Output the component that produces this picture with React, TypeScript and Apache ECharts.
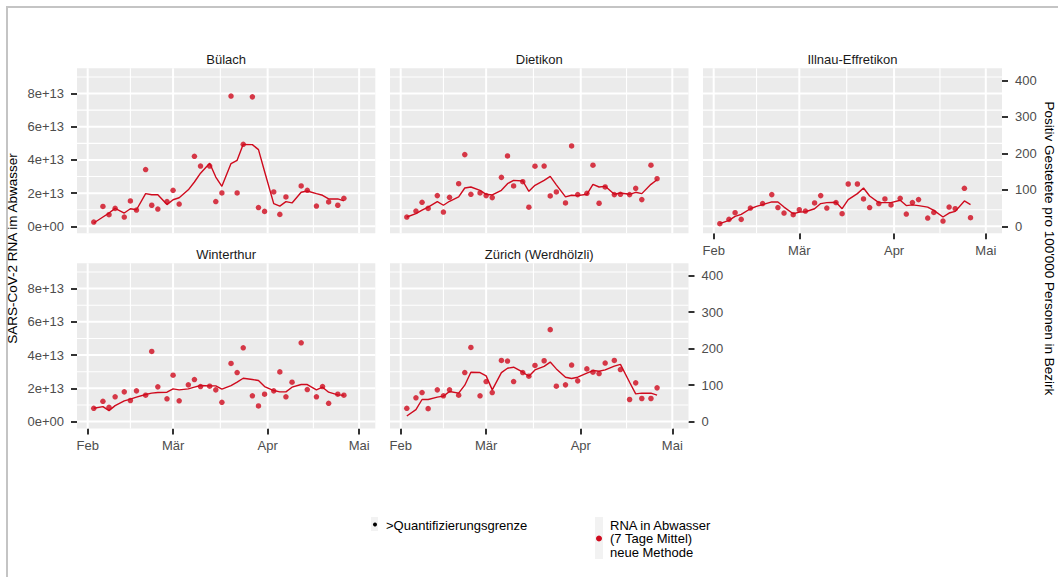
import React, { useEffect, useRef } from 'react';
import * as echarts from 'echarts';

const sampleDates = [
  '2021-02-03', '2021-02-06', '2021-02-08', '2021-02-10', '2021-02-13', '2021-02-15',
  '2021-02-17', '2021-02-20', '2021-02-22', '2021-02-24', '2021-02-27', '2021-03-01',
  '2021-03-03', '2021-03-06', '2021-03-08', '2021-03-10', '2021-03-13', '2021-03-15',
  '2021-03-17', '2021-03-20', '2021-03-22', '2021-03-24', '2021-03-27', '2021-03-29',
  '2021-03-31', '2021-04-03', '2021-04-05', '2021-04-07', '2021-04-09', '2021-04-12',
  '2021-04-14', '2021-04-17', '2021-04-19', '2021-04-21', '2021-04-24', '2021-04-26',
];

const bulachPoints = [0.26, 1.2, 0.7, 1.08, 0.56, 1.53, 0.98, 3.42, 1.27, 1.04, 1.49, 2.17, 1.34, null, 4.22, 3.63, 3.63, 1.49, 2.01, 7.85, 2.01, 4.94, 7.8, 1.13, 0.9, 2.07, 0.72, 1.77, null, 2.43, 2.17, 1.22, null, 1.47, 1.27, 1.69];
const bulachLine = [0.2, 0.56, 0.8, 1.08, 0.8, 1.06, 1.0, 1.97, 1.9, 1.9, 1.31, 1.6, 1.72, 2.2, 2.67, 3.2, 3.8, 2.97, 2.41, 3.78, 3.98, 4.94, 4.92, 4.62, 3.3, 1.37, 1.22, 1.49, 1.41, 2.05, 2.13, 1.97, 1.87, 1.65, 1.65, 1.53];

const dietikonPoints = [0.56, 0.92, 1.45, 1.08, 1.85, 0.86, 1.75, 2.57, 4.32, 1.93, 2.01, 1.85, 1.73, 2.95, 4.24, 2.43, 2.69, 1.15, 3.62, 3.63, 1.83, 2.07, 1.41, 4.84, 1.91, 1.99, 3.68, 1.39, 2.37, 1.91, 1.93, 1.91, 2.29, 1.61, 3.68, 2.87];
const dietikonLine = [0.56, 0.76, 0.98, 1.16, 1.49, 1.27, 1.51, 1.77, 2.31, 2.37, 2.17, 1.93, 1.89, 2.17, 2.57, 2.77, 2.73, 2.11, 2.47, 2.77, 3.01, 2.5, 1.77, 1.87, 1.85, 1.93, 2.53, 2.37, 2.41, 1.93, 2.01, 1.93, 2.05, 1.97, 2.53, 2.81];

const illnauPoints = [0.16, 0.42, 0.82, 0.42, 1.1, null, 1.37, 1.91, 1.13, 0.8, 0.7, 1.0, 0.92, 1.41, 1.85, 1.1, 1.43, 0.76, 2.55, 2.55, 1.65, 1.13, 1.37, 1.65, 1.29, 1.69, 0.74, 1.43, 1.61, 0.5, 0.84, 0.32, 1.16, 1.06, 2.29, 0.52];
const illnauLine = [0.16, 0.36, 0.6, 0.72, 1.06, 1.2, 1.31, 1.47, 1.47, 1.16, 0.76, 0.86, 0.88, 1.06, 1.37, 1.43, 1.45, 1.06, 1.61, 1.97, 2.31, 1.83, 1.43, 1.43, 1.43, 1.57, 1.25, 1.29, 1.25, 1.16, 0.96, 0.56, 0.8, 0.9, 1.53, 1.31];

const winterthurPoints = [0.8, 1.22, 0.86, 1.49, 1.79, 1.27, 1.85, 1.59, 4.22, 2.09, 1.37, 2.79, 1.25, 2.21, 2.53, 2.11, 2.13, 1.91, 1.16, 3.5, 2.95, 4.44, 1.55, 0.94, 1.65, 1.85, 2.99, 1.49, 2.37, 4.74, 1.93, 1.49, 2.11, 1.1, 1.65, 1.59];
const winterthurLine = [0.8, 0.9, 0.66, 0.96, 1.25, 1.35, 1.47, 1.63, 1.71, 1.75, 1.77, 1.97, 1.91, 1.97, 2.07, 2.17, 2.15, 2.15, 1.95, 2.17, 2.37, 2.61, 2.53, 2.47, 2.11, 1.87, 1.79, 1.79, 2.07, 2.23, 2.23, 1.91, 2.07, 1.77, 1.61, 1.59];

const zurichPoints = [0.8, 1.43, 1.75, 0.78, 1.91, 1.55, 1.91, 1.59, 2.95, 4.46, 1.55, 2.41, 1.75, 3.68, 3.64, 2.41, 2.95, 2.73, 3.38, 3.66, 5.53, 2.13, 2.21, 3.4, 2.45, 3.17, 2.97, 2.89, 3.52, 3.68, 3.13, 1.33, 2.33, 1.39, 1.39, 2.03];
const zurichLine = [0.34, 0.72, 1.33, 1.33, 1.47, 1.53, 1.81, 1.71, 2.19, 2.97, 2.95, 2.75, 1.91, 2.95, 3.21, 3.27, 2.97, 2.73, 3.11, 3.32, 3.58, 3.17, 2.67, 2.59, 2.67, 2.91, 3.07, 3.03, 3.11, 3.34, 3.44, 2.37, 1.67, 1.71, 1.71, 1.59];

const panelNames = ['Bülach', 'Dietikon', 'Illnau-Effretikon', 'Winterthur', 'Zürich (Werdhölzli)'];

const monthTickDays = [0, 28, 59, 89];
const monthLabels = ['Feb', 'Mär', 'Apr', 'Mai'];
const minorMonthDays = [14, 43.5, 74];
const leftTickUnits = [0, 2, 4, 6, 8];
const leftMinorUnits = [1, 3, 5, 7, 9];
const rightTicks = [0, 100, 200, 300, 400];

const UNIT = 1e13;
const BASE = Date.UTC(2021, 1, 1);
const RED = '#cf0a1d';
const FONT = '"Liberation Sans", Arial, Helvetica, sans-serif';

const toDay = (s: string) => (Date.parse(s) - BASE) / 86400000;

function pairs(vals: (number | null)[]) {
  const out: number[][] = [];
  vals.forEach((v, i) => {
    if (v !== null && v !== undefined) out.push([toDay(sampleDates[i]), v * UNIT]);
  });
  return out;
}

function buildOption() {
  const cols = [
    { left: 77, width: 298.3 },
    { left: 390, width: 298.5 },
    { left: 703, width: 299 },
  ];
  const rows = [
    { top: 68.3, height: 165 },
    { top: 263.3, height: 165.3 },
  ];
  const panels = [
    { row: 0, col: 0, pts: bulachPoints, line: bulachLine, L: true, R: false, X: false },
    { row: 0, col: 1, pts: dietikonPoints, line: dietikonLine, L: false, R: false, X: false },
    { row: 0, col: 2, pts: illnauPoints, line: illnauLine, L: false, R: true, X: true },
    { row: 1, col: 0, pts: winterthurPoints, line: winterthurLine, L: true, R: false, X: true },
    { row: 1, col: 1, pts: zurichPoints, line: zurichLine, L: false, R: true, X: true },
  ];

  const xMin = -3.5, xMax = 94.3;
  const yMin = -0.42 * UNIT, yMax = 9.52 * UNIT;
  const rMin = -19.1, rMax = 433.5;
  const leftTicks = leftTickUnits.map((u) => u * UNIT);

  const grid: any[] = [];
  const xAxis: any[] = [];
  const yAxis: any[] = [];
  const series: any[] = [];
  const graphic: any[] = [];
  const tickStyle = { color: '#333333', width: 2 };
  const labelBase = { color: '#4d4d4d', fontSize: 13, fontFamily: FONT };
  const MAJOR = 2, MINOR = 1.1;

  const vData = [
    ...monthTickDays.map((d) => [d, MAJOR]),
    ...minorMonthDays.map((d) => [d, MINOR]),
  ];
  const hData = [
    ...leftTickUnits.map((u) => [u, MAJOR]),
    ...leftMinorUnits.map((u) => [u, MINOR]),
  ];

  const renderV = (params: any, api: any) => {
    const v = api.value(0);
    const w = api.value(1);
    const cs = params.coordSys;
    const x = api.coord([v, yMin])[0];
    return {
      type: 'rect', silent: true,
      shape: { x: x - w / 2, y: cs.y, width: w, height: cs.height },
      style: { fill: '#ffffff' },
    };
  };
  const renderH = (params: any, api: any) => {
    const u = api.value(0);
    const w = api.value(1);
    const cs = params.coordSys;
    const y = api.coord([xMin, u * UNIT])[1];
    return {
      type: 'rect', silent: true,
      shape: { x: cs.x, y: y - w / 2, width: cs.width, height: w },
      style: { fill: '#ffffff' },
    };
  };

  panels.forEach((p, i) => {
    const c = cols[p.col];
    const r = rows[p.row];
    grid.push({
      left: c.left, top: r.top, width: c.width, height: r.height,
      show: true, backgroundColor: '#ebebeb', borderWidth: 0, containLabel: false,
    });
    xAxis.push({
      type: 'value', gridIndex: i, min: xMin, max: xMax, position: 'bottom',
      axisLine: { show: false, onZero: false },
      axisTick: { show: p.X, customValues: monthTickDays, length: 6, lineStyle: tickStyle },
      axisLabel: {
        show: p.X, customValues: monthTickDays, margin: 10.5, ...labelBase,
        formatter: (v: number) => {
          const k = monthTickDays.indexOf(v);
          return k >= 0 ? monthLabels[k] : '';
        },
      },
      splitLine: { show: false },
    });
    yAxis.push({
      type: 'value', gridIndex: i, min: yMin, max: yMax, position: 'left',
      axisLine: { show: false, onZero: false },
      axisTick: { show: p.L, customValues: leftTicks, length: 6, lineStyle: tickStyle },
      axisLabel: {
        show: p.L, customValues: leftTicks, margin: 13, ...labelBase,
        formatter: (v: number) => (v === 0 ? '0e+00' : `${Math.round(v / UNIT)}e+13`),
      },
      splitLine: { show: false },
    });
    yAxis.push({
      type: 'value', gridIndex: i, min: rMin, max: rMax, position: 'right',
      axisLine: { show: false, onZero: false },
      axisTick: { show: p.R, customValues: rightTicks, length: 6, lineStyle: tickStyle },
      axisLabel: { show: p.R, customValues: rightTicks, margin: 13, ...labelBase },
      splitLine: { show: false },
    });
    series.push({
      type: 'custom', xAxisIndex: i, yAxisIndex: 2 * i, z: 1, silent: true, clip: false,
      encode: { x: 0 },
      data: vData, renderItem: renderV,
    });
    series.push({
      type: 'custom', xAxisIndex: i, yAxisIndex: 2 * i, z: 2, silent: true, clip: false,
      encode: { y: 0 },
      data: hData, renderItem: renderH,
    });
    series.push({
      type: 'scatter', xAxisIndex: i, yAxisIndex: 2 * i,
      data: pairs(p.pts), symbol: 'circle', symbolSize: 5.5,
      itemStyle: { color: RED }, z: 3,
    });
    series.push({
      type: 'line', xAxisIndex: i, yAxisIndex: 2 * i,
      data: pairs(p.line), showSymbol: false, symbol: 'none',
      lineStyle: { color: RED, width: 1.4 }, z: 4,
    });
    graphic.push({
      type: 'text', x: c.left + c.width / 2, y: r.top - 8.5,
      style: {
        text: panelNames[i], fill: '#1a1a1a', font: `13px ${FONT}`,
        textAlign: 'center', textVerticalAlign: 'middle', align: 'center', verticalAlign: 'middle',
      },
    });
  });

  const midY = (rows[0].top + rows[1].top + rows[1].height) / 2;
  graphic.push({
    type: 'text', x: 12, y: midY, rotation: Math.PI / 2,
    style: {
      text: 'SARS-CoV-2 RNA im Abwasser', fill: '#000', font: `13.5px ${FONT}`,
      textAlign: 'center', textVerticalAlign: 'middle', align: 'center', verticalAlign: 'middle',
    },
  });
  graphic.push({
    type: 'text', x: 1049, y: midY, rotation: -Math.PI / 2,
    style: {
      text: "Positiv Gestetete pro 100'000 Personen in Bezirk", fill: '#000', font: `13.5px ${FONT}`,
      textAlign: 'center', textVerticalAlign: 'middle', align: 'center', verticalAlign: 'middle',
    },
  });

  graphic.push({ type: 'rect', shape: { x: 371, y: 517, width: 7, height: 14 }, style: { fill: '#f2f2f2' } });
  graphic.push({ type: 'circle', shape: { cx: 375, cy: 524.5, r: 2 }, style: { fill: '#000' } });
  graphic.push({
    type: 'text', x: 386, y: 525,
    style: { text: '>Quantifizierungsgrenze', fill: '#000', font: `13px ${FONT}`, textAlign: 'left', textVerticalAlign: 'middle', align: 'left', verticalAlign: 'middle' },
  });
  graphic.push({ type: 'rect', shape: { x: 595, y: 517, width: 8, height: 42 }, style: { fill: '#f2f2f2' } });
  graphic.push({ type: 'circle', shape: { cx: 599, cy: 538.5, r: 3 }, style: { fill: RED } });
  ['RNA in Abwasser', '(7 Tage Mittel)', 'neue Methode'].forEach((t, k) => {
    graphic.push({
      type: 'text', x: 610, y: 525 + k * 13.7,
      style: { text: t, fill: '#000', font: `13px ${FONT}`, textAlign: 'left', textVerticalAlign: 'middle', align: 'left', verticalAlign: 'middle' },
    });
  });

  return {
    animation: false,
    textStyle: { fontFamily: FONT },
    grid, xAxis, yAxis, series, graphic,
  };
}

export default function App() {
  const ref = useRef<HTMLDivElement>(null);
  useEffect(() => {
    const chart = echarts.init(ref.current as HTMLDivElement, null, { renderer: 'svg' });
    chart.setOption(buildOption() as any);
    return () => chart.dispose();
  }, []);
  return (
    <div style={{ position: 'fixed', left: 0, top: 0, width: 1058, height: 577, background: '#fff', overflow: 'hidden' }}>
      <div style={{ position: 'absolute', left: 6, top: 6, width: 1100, height: 640, borderLeft: '2px solid #c4c4c4', borderTop: '2px solid #c4c4c4' }} />
      <div ref={ref} style={{ position: 'absolute', left: 0, top: 0, width: 1058, height: 577 }} />
    </div>
  );
}
